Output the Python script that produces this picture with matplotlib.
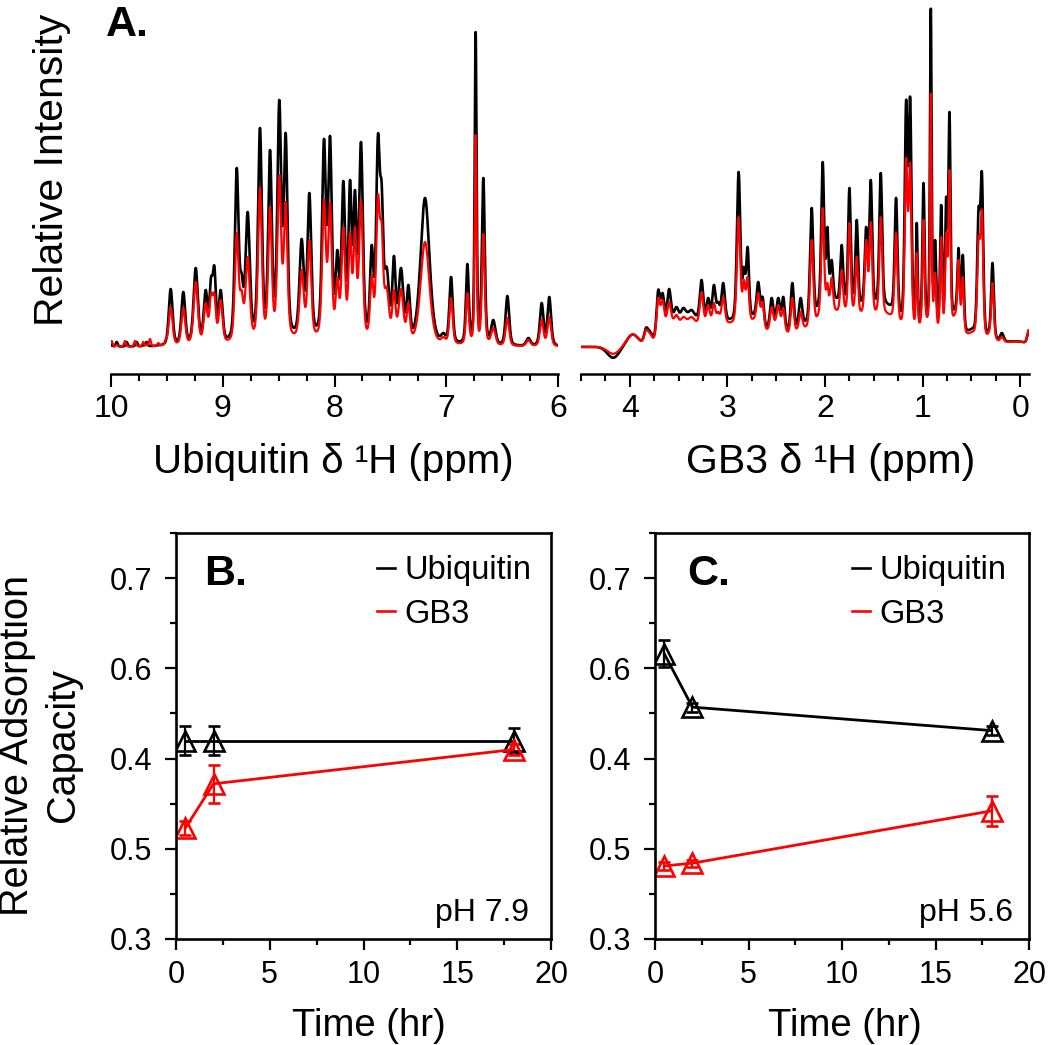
import numpy as np
import matplotlib
matplotlib.use('Agg')
import matplotlib.pyplot as plt
from matplotlib.lines import Line2D
from matplotlib.ticker import MultipleLocator, FixedLocator

plt.rcParams['font.family'] = ['Liberation Sans', 'DejaVu Sans']

# ---------------- Panel A data: peak lists ----------------
# Ubiquitin amide region: position (ppm), apparent height black / red, line width (ppm)
ubq_ppm = [9.994, 9.949, 9.875, 9.860, 9.785, 9.770, 9.711, 9.681, 9.651, 9.577, 9.510,
           9.466, 9.353, 9.242, 9.153, 9.105, 9.075, 9.019, 8.875, 8.831, 8.777,
           8.667, 8.577, 8.494, 8.437, 8.294, 8.225, 8.094, 8.040, 7.975, 7.921,
           7.861, 7.817, 7.763, 7.667, 7.611, 7.578, 7.533, 7.468, 7.405, 7.339,
           7.190, 7.026, 6.957, 6.811, 6.737, 6.668, 6.579, 6.453, 6.265, 6.146, 6.078]
ubq_black = [2, 5, 1, 5, 2, 5, 2, 5, 1, 2, 4,
             58, 55, 79, 57, 70, 81, 57, 179, 74, 135,
             219, 197, 247, 214, 108, 154, 208, 211, 97, 166,
             167, 157, 205, 102, 213, 164, 80, 91, 79, 62,
             149, 14, 70, 83, 315, 169, 27, 51, 9, 44, 50]
ubq_red = [6, 2, 6, 1, 6, 2, 5, 2, 8, 4, 8,
           40, 39, 65, 44, 54, 54, 47, 114, 57, 90,
           159, 140, 172, 145, 77, 107, 147, 144, 70, 120,
           114, 120, 147, 72, 152, 125, 60, 57, 58, 44,
           105, 10, 49, 54, 212, 113, 19, 29, 7, 27, 30]
ubq_width = [0.020] * 11 + [
    0.040, 0.040, 0.045, 0.040, 0.033, 0.033, 0.040, 0.040, 0.035, 0.045,
    0.040, 0.038, 0.040, 0.038, 0.045, 0.040, 0.040, 0.038, 0.035, 0.038,
    0.033, 0.033, 0.040, 0.035, 0.038, 0.033, 0.050, 0.035, 0.050, 0.035,
    0.095, 0.045, 0.035, 0.030, 0.020, 0.030, 0.045, 0.038, 0.045, 0.038, 0.038]
# broad background components (center, sigma, black, red)
ubq_bg_center = [8.30]
ubq_bg_sigma = [0.35]
ubq_bg_black = [5]
ubq_bg_red = [4]

# GB3 aliphatic region
gb3_ppm = [3.836, 3.795, 3.709, 3.665, 3.597, 3.521, 3.453, 3.367, 3.265, 3.197,
           3.138, 3.094, 3.043, 2.885, 2.831, 2.793, 2.684, 2.639, 2.547, 2.479,
           2.427, 2.335, 2.250, 2.137, 2.024, 1.976, 1.932, 1.829, 1.750, 1.675,
           1.579, 1.531, 1.429, 1.272, 1.169, 1.128, 1.060, 0.991, 0.916, 0.872,
           0.810, 0.759, 0.725, 0.632, 0.588, 0.427, 0.393, 0.284, 0.188, -0.085]
gb3_black = [19, 16, 57, 54, 58, 40, 39, 37, 67, 49,
             62, 45, 64, 175, 80, 100, 65, 50, 49, 49,
             50, 64, 49, 139, 185, 120, 87, 102, 159, 127,
             120, 167, 174, 149, 247, 250, 124, 164, 339, 107,
             142, 150, 235, 99, 92, 139, 175, 84, 14, 15]
gb3_red = [17, 14, 49, 47, 45, 32, 30, 30, 55, 42,
           44, 35, 50, 130, 67, 70, 54, 45, 40, 42,
           39, 49, 35, 107, 139, 64, 69, 77, 124, 90,
           107, 125, 130, 114, 189, 184, 94, 127, 254, 74,
           110, 114, 177, 87, 70, 110, 137, 64, 10, 17]
gb3_width = [0.046, 0.046, 0.042, 0.042, 0.042, 0.050, 0.060, 0.060, 0.042, 0.042,
             0.039, 0.039, 0.042, 0.042, 0.034, 0.034, 0.039, 0.034, 0.039, 0.039,
             0.034, 0.039, 0.039, 0.039, 0.034, 0.026, 0.034, 0.034, 0.031, 0.031,
             0.034, 0.034, 0.034, 0.034, 0.034, 0.034, 0.020, 0.026, 0.020, 0.026,
             0.026, 0.026, 0.026, 0.026, 0.026, 0.034, 0.034, 0.031, 0.046, 0.034]
gb3_bg_center = [4.17, 3.97, 3.80, 3.60, 3.40, 3.15, 2.95, 2.72, 2.48, 2.25,
                 2.00, 1.70, 1.35, 0.95, 0.65, 0.50, 0.30, 0.05]
gb3_bg_sigma = [0.06, 0.06, 0.03, 0.07, 0.10, 0.12, 0.08, 0.08, 0.08, 0.06,
                0.12, 0.20, 0.12, 0.10, 0.05, 0.05, 0.04, 0.12]
gb3_bg_black = [-11, 12, 10, 22, 27, 20, 16, 26, 22, 14, 30, 36, 28, 18, 30, 12, 8, 5]
gb3_bg_red = [-7, 12, 8, 19, 22, 17, 15, 23, 19, 12, 22, 28, 22, 16, 26, 10, 8, 5]

# ---------------- Panels B, C data ----------------
time_hr = [0.5, 2, 18]
b_ubq = [0.520, 0.520, 0.520]
b_ubq_err = [0.016, 0.016, 0.014]
b_gb3 = [0.423, 0.472, 0.510]
b_gb3_err = [0.008, 0.021, 0.006]
c_ubq = [0.616, 0.557, 0.531]
c_ubq_err = [0.015, 0.005, 0.005]
c_gb3 = [0.381, 0.384, 0.442]
c_gb3_err = [0.004, 0.004, 0.017]
y_tick_pos = [0.3, 0.4, 0.5, 0.6, 0.7]
y_tick_labels = ['0.3', '0.5', '0.4', '0.6', '0.7']

RED = '#ff0000'


def lineshape(x, c, w):
    hw = w / 2.0
    lor = hw ** 2 / ((x - c) ** 2 + hw ** 2)
    gau = np.exp(-np.log(2) * ((x - c) / hw) ** 2)
    return 0.4 * lor + 0.6 * gau


def background(x, centers, sigmas, heights):
    out = np.zeros_like(x, dtype=float)
    for c, s, h in zip(centers, sigmas, heights):
        out += h * np.exp(-0.5 * ((x - c) / s) ** 2)
    return out


def spectrum(x, ppm, hts, wid, bgc, bgs, bgh):
    ppm = np.asarray(ppm, float)
    hts = np.asarray(hts, float)
    wid = np.asarray(wid, float)
    M = lineshape(ppm[:, None], ppm[None, :], wid[None, :])
    target = hts - background(ppm, bgc, bgs, bgh)
    a = np.clip(target, 0, None)
    for _ in range(500):
        a = np.clip(a + 0.35 * (target - M @ a), 0, None)
    return background(x, bgc, bgs, bgh) + lineshape(x[:, None], ppm[None, :], wid[None, :]) @ a


W, H = 1050, 1045
fig = plt.figure(figsize=(W / 100, H / 100), dpi=100)


def ax_px(x0, y0, x1, y1):
    return fig.add_axes([x0 / W, 1 - y1 / H, (x1 - x0) / W, (y1 - y0) / H])


# --- top spectra axes ---
YLIM_TOP = (-27, 342)
axL = ax_px(111, 5, 558, 374)
axR = ax_px(581, 5, 1029, 374)

xu = np.linspace(10.0, 6.0, 4000)
axL.plot(xu, spectrum(xu, ubq_ppm, ubq_black, ubq_width, ubq_bg_center, ubq_bg_sigma, ubq_bg_black),
         color='black', lw=1.9)
axL.plot(xu, spectrum(xu, ubq_ppm, ubq_red, ubq_width, ubq_bg_center, ubq_bg_sigma, ubq_bg_red),
         color=RED, lw=1.6)
axL.set_xlim(10, 6)

xg = np.linspace(4.5, -0.09, 4000)
axR.plot(xg, spectrum(xg, gb3_ppm, gb3_black, gb3_width, gb3_bg_center, gb3_bg_sigma, gb3_bg_black),
         color='black', lw=1.9)
axR.plot(xg, spectrum(xg, gb3_ppm, gb3_red, gb3_width, gb3_bg_center, gb3_bg_sigma, gb3_bg_red),
         color=RED, lw=1.6)
axR.set_xlim(4.5, -0.09)

for ax in (axL, axR):
    ax.set_ylim(*YLIM_TOP)
    for s in ('left', 'right', 'top'):
        ax.spines[s].set_visible(False)
    ax.spines['bottom'].set_linewidth(1.8)
    ax.set_yticks([])
    ax.xaxis.set_major_locator(MultipleLocator(1))
    ax.xaxis.set_minor_locator(MultipleLocator(0.25))
    ax.tick_params(axis='x', which='major', direction='out', length=9.5, width=1.5,
                   labelsize=23, pad=5)
    ax.tick_params(axis='x', which='minor', direction='out', length=5, width=1.5)
    ax.patch.set_alpha(0)

fig.text(333 / W, 1 - 473 / H, 'Ubiquitin \u03b4 \u00b9H (ppm)', ha='center', va='baseline', fontsize=29)
fig.text(831 / W, 1 - 473 / H, 'GB3 \u03b4 \u00b9H (ppm)', ha='center', va='baseline', fontsize=29.5)
fig.text(106 / W, 1 - 36 / H, 'A.', ha='left', va='baseline', fontsize=31, fontweight='bold')
fig.text(52 / W, 1 - 170 / H, 'Relative Intensity', rotation=90, ha='center', va='center', fontsize=29.5)

# --- bottom panels ---
axB = ax_px(176, 533, 551, 939)
axC = ax_px(655, 533, 1029, 939)

eb_kw = dict(marker='^', ms=15, mfc='none', mew=1.9, lw=2.0, capsize=4, elinewidth=1.6, capthick=1.6)
axB.errorbar(time_hr, b_ubq, yerr=b_ubq_err, color='black', **eb_kw)
axB.errorbar(time_hr, b_gb3, yerr=b_gb3_err, color=RED, **eb_kw)
axC.errorbar(time_hr, c_ubq, yerr=c_ubq_err, color='black', **eb_kw)
axC.errorbar(time_hr, c_gb3, yerr=c_gb3_err, color=RED, **eb_kw)

for ax, lab, ph, phx in ((axB, 'B.', 'pH 7.9', 0.941), (axC, 'C.', 'pH 5.6', 0.957)):
    ax.set_xlim(0, 20)
    ax.set_ylim(0.3, 0.75)
    ax.xaxis.set_major_locator(MultipleLocator(5))
    ax.xaxis.set_minor_locator(MultipleLocator(2.5))
    ax.yaxis.set_major_locator(FixedLocator(y_tick_pos))
    ax.set_yticklabels(y_tick_labels)
    ax.yaxis.set_minor_locator(MultipleLocator(0.05))
    for s in ax.spines.values():
        s.set_linewidth(1.9)
    ax.tick_params(which='major', direction='out', length=8, width=1.6, labelsize=22)
    ax.tick_params(which='minor', direction='out', length=4.5, width=1.6)
    ax.tick_params(axis='x', which='major', pad=7)
    ax.tick_params(axis='y', which='major', pad=9)
    ax.text(0.075 if lab == 'B.' else 0.086, 0.872, lab, transform=ax.transAxes,
            ha='left', va='baseline', fontsize=31, fontweight='bold')
    ax.text(phx, 0.044, ph, transform=ax.transAxes, ha='right', va='baseline', fontsize=23)
    handles = [Line2D([], [], color='black', lw=1.9), Line2D([], [], color=RED, lw=1.9)]
    ax.legend(handles, ['Ubiquitin', 'GB3'], loc='upper left',
              bbox_to_anchor=(0.536 if lab == 'B.' else 0.527, 0.945),
              frameon=False, fontsize=23.5, handlelength=0.55, handletextpad=0.3,
              labelspacing=0.38, borderpad=0, borderaxespad=0)

fig.text(369 / W, 1 - 1036 / H, 'Time (hr)', ha='center', va='baseline', fontsize=27.5)
fig.text(845 / W, 1 - 1036 / H, 'Time (hr)', ha='center', va='baseline', fontsize=27.5)
fig.text(40 / W, 1 - 745 / H, 'Relative Adsorption\nCapacity', rotation=90, ha='center',
         va='center', fontsize=28.5, linespacing=1.25, multialignment='center')

fig.savefig('out.png', dpi=100)
